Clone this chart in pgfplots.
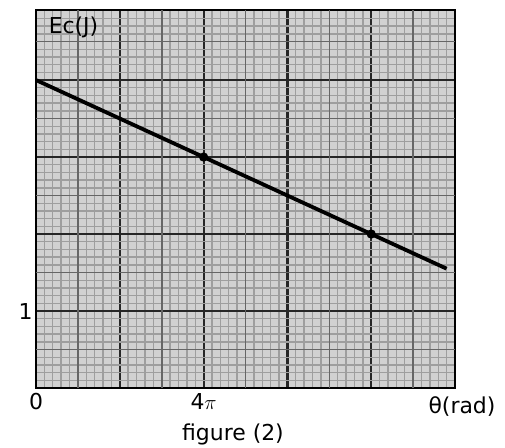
\documentclass[border=0pt]{standalone}
\usepackage{pgfplots}
\pgfplotsset{compat=1.18}
\usetikzlibrary{calc}
\usepackage{fontspec}
\setmainfont{DejaVu Sans}
\begin{document}
\begin{tikzpicture}
\begin{axis}[
  scale only axis,
  width=419bp, height=378bp,
  xmin=0, xmax=10, ymin=0, ymax=4.91,
  xtick={0,2,4,6,8,10},
  xticklabels={0,,4$\pi$,,,},
  ytick={0,1,2,3,4},
  yticklabels={,1,,,},
  minor xtick={0,0.2,...,10},
  minor ytick={0,0.1,...,4.9},
  extra x ticks={1,3,5,7,9},
  extra y ticks={0.5,1.5,2.5,3.5,4.5},
  extra x tick labels={},
  extra y tick labels={},
  extra tick style={grid=major, major grid style={color=black!60, line width=1.6bp}},
  grid=both,
  minor grid style={color=black!38, line width=1.4bp},
  major grid style={color=black!85, line width=2.2bp},
  axis background/.style={fill=black!18},
  tick style={draw=none},
  axis line style={line width=2.8bp, black},
  /pgf/number format/assume math mode=true,
  tick label style={font=\fontsize{22}{26}\selectfont},
  xticklabel style={yshift=-2bp},
  clip=false,
]
\addplot[black, line width=3.8bp, mark=*, mark size=2.6bp, mark indices={2,3}] coordinates {(0,4) (4,3) (8,2) (9.8,1.55)};
\node[anchor=west, font=\fontsize{22}{26}\selectfont, inner sep=0pt] at (axis cs:0.3,4.68) {Ec(J)};
\coordinate (o) at (rel axis cs:0,0);
\end{axis}
\node[font=\fontsize{22}{26}\selectfont] at ($(o)+(426bp,-19bp)$) {θ(rad)};
\node[font=\fontsize{22}{26}\selectfont] at ($(o)+(197bp,-46bp)$) {figure (2)};
\path (o) ++(-36bp,-58bp) rectangle ++(505bp,446bp);
\end{tikzpicture}
\end{document}
